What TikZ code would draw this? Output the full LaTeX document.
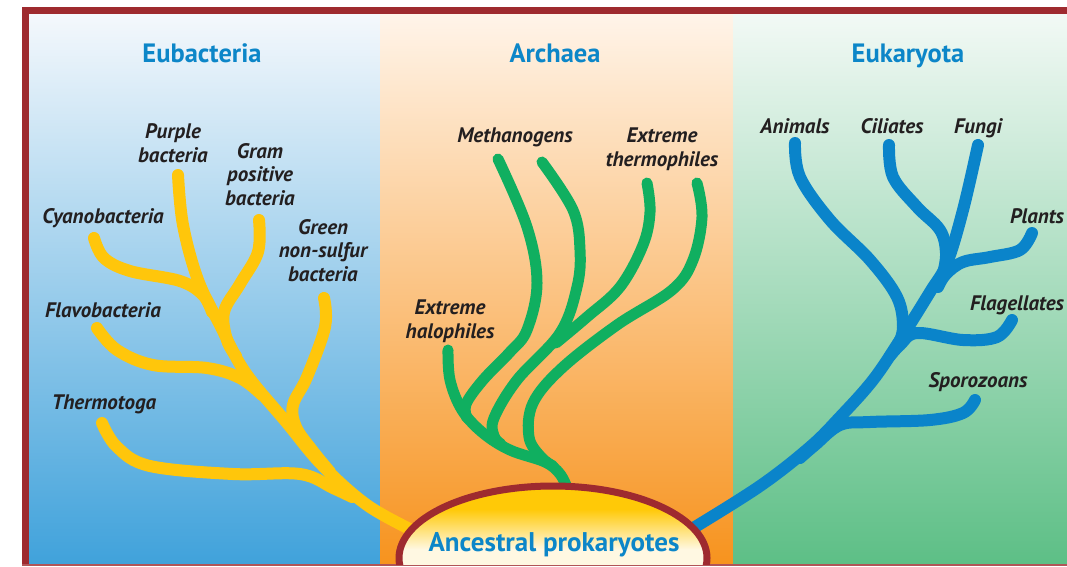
\documentclass[tikz,border=0pt]{standalone}
\usepackage{fontspec}
\setmainfont{PT Sans}
\definecolor{frameRed}{HTML}{9E2A2F}
\definecolor{titleBlue}{HTML}{0C86C8}
\definecolor{labInk}{HTML}{231F20}
\definecolor{eubTop}{HTML}{F4F8FC}
\definecolor{eubMid}{HTML}{86BEE6}
\definecolor{eubBot}{HTML}{40A2DB}
\definecolor{arcTop}{HTML}{FFF4E9}
\definecolor{arcMid}{HTML}{F9B874}
\definecolor{arcBot}{HTML}{F7931E}
\definecolor{eukTop}{HTML}{F2F9F5}
\definecolor{eukMid}{HTML}{A0D6B4}
\definecolor{eukBot}{HTML}{5DBF86}
\definecolor{eubLine}{HTML}{FFC60B}
\definecolor{arcLine}{HTML}{10AF60}
\definecolor{eukLine}{HTML}{0A84CA}
\definecolor{ancYellow}{HTML}{FFC907}
\definecolor{ancCream}{HTML}{FFF8E2}
\pgfdeclareverticalshading{ancShade}{100bp}{color(0bp)=(ancCream); color(53bp)=(ancCream);
  color(67bp)=(ancYellow); color(100bp)=(ancYellow)}

\begin{document}
\begin{tikzpicture}[
  x=1pt, y=-1pt,
  title/.style={font=\fontsize{26.5}{30}\selectfont\bfseries, text=titleBlue,
                inner sep=0pt, anchor=base},
  lbl/.style={font=\fontsize{21}{23.5}\selectfont\bfseries\itshape, text=labInk,
              align=center, inner sep=0pt, anchor=base},
  branch/.style={line width=12pt, line cap=round, line join=round},
  eubbranch/.style={branch, draw=eubLine},
  arcbranch/.style={branch, draw=arcLine, line width=11pt},
  eukbranch/.style={branch, draw=eukLine},
  tree/.style={smooth, tension=0.6}
]
\useasboundingbox (0,0) rectangle (1067,566);

% panels
\shade[top color=eubTop, middle color=eubMid, bottom color=eubBot] (29,14) rectangle (380,564);
\shade[top color=arcTop, middle color=arcMid, bottom color=arcBot] (380,14) rectangle (733,564);
\shade[top color=eukTop, middle color=eukMid, bottom color=eukBot] (733,14) rectangle (1067,564);

% frame
\fill[frameRed] (22,7) rectangle (1067,14);
\fill[frameRed] (22,7) rectangle (29,566);
\fill[frameRed!80] (22,564) rectangle (1067,566);

\node[title] (eubT) at (202,62) {Eubacteria};
\node[title] (arcT) at (555,62) {Archaea};
\node[title] (eukT) at (908,62) {Eukaryota};

% tips and roots
\coordinate (purple) at (178,175);
\coordinate (gram) at (259,220);
\coordinate (cyano) at (94,238);
\coordinate (green) at (324,298);
\coordinate (flavo) at (97,328);
\coordinate (thermo) at (102,423);
\coordinate (eubRoot) at (414,531);

\coordinate (methA) at (498,159);
\coordinate (methB) at (542,162);
\coordinate (thphA) at (647,183);
\coordinate (thphB) at (697,183);
\coordinate (halo) at (448,350);
\coordinate (arcRoot) at (568,490);

\coordinate (animals) at (795,143);
\coordinate (ciliates) at (889,145);
\coordinate (fungi) at (978,145);
\coordinate (plants) at (1032,233);
\coordinate (flag) at (1012,320);
\coordinate (sporo) at (975,400);
\coordinate (eukRoot) at (690,530);

% Eubacteria
\draw[eubbranch] plot[tree] coordinates {(purple) (183,225) (198,280) (220,325) (245,372)
  (287,423) (322,465) (367,505) (eubRoot)};
\draw[eubbranch] plot[tree] coordinates {(cyano) (104,258) (130,271) (180,281) (203,295) (212,312)};
\draw[eubbranch] plot[tree] coordinates {(gram) (258,252) (240,284) (224,312) (227,340) (236,356)};
\draw[eubbranch] plot[tree] coordinates {(flavo) (117,350) (153,365) (207,368) (240,378) (262,395)};
\draw[eubbranch] plot[tree] coordinates {(green) (325,327) (307,377) (293,405) (296,427) (312,450) (330,472)};
\draw[eubbranch] plot[tree] coordinates {(thermo) (117,447) (150,466) (233,474) (300,474) (333,488) (352,497)};

% Archaea
\draw[arcbranch] plot[tree] coordinates {(halo) (450,380) (462,410) (483,433) (510,450)
  (545,462) (560,474) (arcRoot)};
\draw[arcbranch] plot[tree] coordinates {(methA) (527,227) (537,283) (527,330) (510,352)
  (483,380) (466,404) (467,418)};
\draw[arcbranch] plot[tree] coordinates {(methB) (573,210) (580,250) (577,287) (560,333)
  (517,380) (494,418) (494,436) (501,444)};
\draw[arcbranch] plot[tree] coordinates {(thphA) (650,212) (643,245) (620,287) (587,317) (556,343)};
\draw[arcbranch] plot[tree] coordinates {(thphB) (702,217) (693,260) (672,290) (617,325)
  (562,368) (533,403) (529,437) (541,457) (553,466)};

% Eukaryota
\draw[eukbranch] plot[tree] coordinates {(fungi) (963,210) (947,263) (930,292) (900,340)
  (873,380) (840,417) (810,447) (760,486) (eukRoot)};
\draw[eukbranch] plot[tree] coordinates {(animals) (800,177) (830,220) (870,260) (897,297)
  (903,327) (898,345)};
\draw[eukbranch] plot[tree] coordinates {(ciliates) (893,177) (917,207) (940,230) (946,253) (943,274)};
\draw[eukbranch] plot[tree] coordinates {(plants) (1020,250) (990,257) (963,262) (946,274) (938,287)};
\draw[eukbranch] plot[tree] coordinates {(flag) (997,337) (963,340) (917,333) (900,345) (890,356)};
\draw[eukbranch] plot[tree] coordinates {(sporo) (963,413) (930,420) (870,422) (840,425) (815,445) (800,458)};

% common ancestor
\begin{scope}
  \clip (29,14) rectangle (1067,564);
  \shadedraw[shading=ancShade, draw=frameRed, line width=7pt]
    (553,558) ellipse [x radius=154, y radius=72];
\end{scope}
\node[title, font=\fontsize{27}{30}\selectfont\bfseries] (anc) at (554,551) {Ancestral prokaryotes};

% labels (anchor at baseline of last line)
\node[lbl] (purpleL) at (173,162) {Purple\\bacteria};
\node[lbl] (gramL) at (260,205) {Gram\\positive\\bacteria};
\node[lbl] (cyanoL) at (103,223) {Cyanobacteria};
\node[lbl] (greenL) at (323,281) {Green\\non-sulfur\\bacteria};
\node[lbl] (flavoL) at (103,317) {Flavobacteria};
\node[lbl] (thermoL) at (104,409) {Thermotoga};

\node[lbl] (methL) at (515,142) {Methanogens};
\node[lbl] (thphL) at (662,166) {Extreme\\thermophiles};
\node[lbl] (haloL) at (450,338) {Extreme\\halophiles};

\node[lbl] (animalsL) at (795,133) {Animals};
\node[lbl] (ciliatesL) at (892,133) {Ciliates};
\node[lbl] (fungiL) at (978,133) {Fungi};
\node[lbl] (plantsL) at (1037,223) {Plants};
\node[lbl] (flagL) at (1017,310) {Flagellates};
\node[lbl] (sporoL) at (978,387) {Sporozoans};
\end{tikzpicture}
\end{document}
